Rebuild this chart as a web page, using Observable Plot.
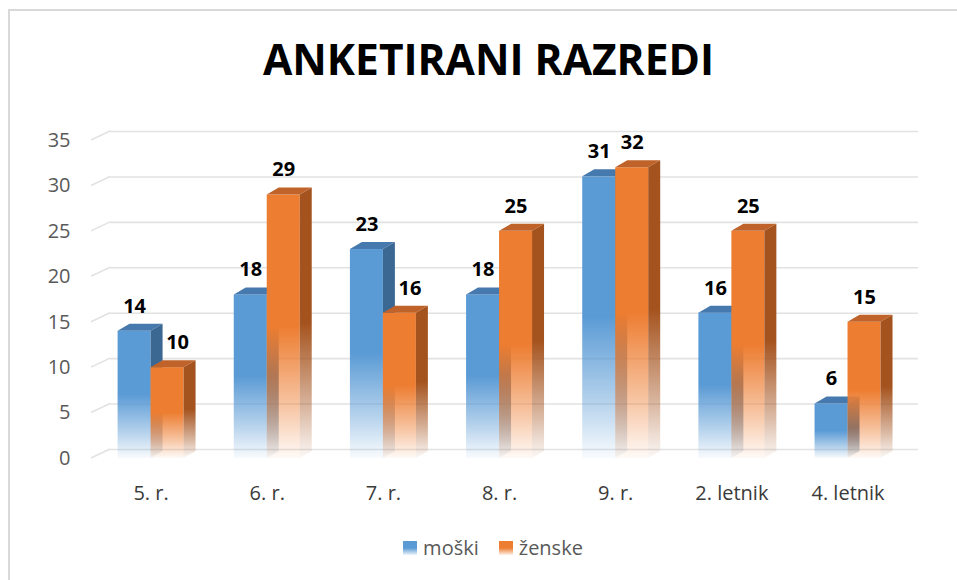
<!DOCTYPE html>
<html>
<head>
<meta charset="utf-8">
<script src="https://cdn.jsdelivr.net/npm/d3@7"></script>
<script src="https://cdn.jsdelivr.net/npm/@observablehq/plot@0.6"></script>
<style>
  html, body { margin: 0; padding: 0; background: #fff; }
  body { width: 957px; height: 580px; overflow: hidden; position: relative; font-family: "Open Sans", sans-serif; }
  #frame { position: absolute; left: 8px; top: 9px; width: 1200px; height: 1200px; border-left: 2px solid #d9d9d9; border-top: 2px solid #d9d9d9; }
  #title { position: absolute; left: 10px; top: 38px; width: 957px; text-align: center; font-weight: bold; font-size: 42.5px; line-height: 42px; color: #000; }
  #chart { position: absolute; left: 0; top: 105px; }
  #legend { position: absolute; left: 0; top: 538px; width: 986px; height: 20px; display: flex; justify-content: center; align-items: center; font-size: 20px; line-height: 20px; color: #595959; }
  .item { display: flex; align-items: center; }
  .sw { width: 14px; height: 14px; margin-right: 6px; }
</style>
</head>
<body>
<div id="frame"></div>
<div id="title">ANKETIRANI RAZREDI</div>
<div id="chart"></div>
<div id="legend"></div>
<script>
// ---- data ----
const categories = ["5. r.", "6. r.", "7. r.", "8. r.", "9. r.", "2. letnik", "4. letnik"];
const moski = [14, 18, 23, 18, 31, 16, 6];
const zenske = [10, 29, 16, 25, 32, 25, 15];
const seriesNames = ["moški", "ženske"];
const yTicks = [0, 5, 10, 15, 20, 25, 30, 35];

// ---- styling ----
const blue = { front: "#5B9BD5", top: "#4679AD", side: "#3B6893" };
const orange = { front: "#ED7D31", top: "#C0632A", side: "#A5531E" };
const gridColor = "#e2e2e2";
const W = 957, H = 425;
const mL = 91, mR = 58, mT = 35, mB = 72;
const padIn = 0.432, padOut = 0.194, alignX = 0.59;
const DX = 12, DY = 7;          // bar depth
const GX = 19, GY = 9;          // floor depth of the back wall

const step = (W - mL - mR) / (categories.length - padIn + 2 * padOut);
const half = step * (1 - padIn) / 2;

const idx = categories.map((_, i) => i);

const plot = Plot.plot({
  width: W, height: H,
  marginLeft: mL, marginRight: mR, marginTop: mT, marginBottom: mB,
  style: { fontFamily: "'Open Sans', sans-serif", fontSize: "20px", color: "#595959", background: "transparent", overflow: "visible" },
  x: { domain: categories, paddingInner: padIn, paddingOuter: padOut, align: alignX, round: false, tickSize: 0, tickPadding: 27, label: null },
  y: { domain: [0, 35], ticks: yTicks, tickSize: 0, tickPadding: 21, label: null },
  marks: [
    Plot.ruleY(yTicks, { stroke: gridColor, strokeWidth: 1.6, dx: GX, dy: -GY }),
    Plot.barY(idx, { x: i => categories[i], y: i => moski[i], fill: "url(#gradBlue)", insetRight: half }),
    Plot.barY(idx, { x: i => categories[i], y: i => zenske[i], fill: "url(#gradOrange)", insetLeft: half }),
    Plot.text(idx, { x: i => categories[i], y: i => moski[i], text: i => String(moski[i]), dx: -half / 2, dy: -25, fontWeight: "bold", fontSize: 20, fill: "#000" }),
    Plot.text(idx.filter(i => zenske[i] >= moski[i]), { x: i => categories[i], y: i => zenske[i], text: i => String(zenske[i]), dx: half / 2, dy: -25, fontWeight: "bold", fontSize: 20, fill: "#000" }),
    Plot.text(idx.filter(i => zenske[i] < moski[i]), { x: i => categories[i], y: i => zenske[i], text: i => String(zenske[i]), dx: half / 2 + 10, dy: -25, fontWeight: "bold", fontSize: 20, fill: "#000" })
  ]
});

document.getElementById("chart").appendChild(plot);
const svg = d3.select(plot);

// darker category labels
svg.selectAll('g[aria-label^="x-axis"]').style("color", "#3a3a3a");

// ---- gradients ----
const defs = svg.insert("defs", ":first-child");
function grad(id, color) {
  const g = defs.append("linearGradient").attr("id", id).attr("x1", 0).attr("y1", 0).attr("x2", 0).attr("y2", 1);
  g.append("stop").attr("offset", 0).attr("stop-color", color).attr("stop-opacity", 1);
  g.append("stop").attr("offset", 0.5).attr("stop-color", color).attr("stop-opacity", 1);
  g.append("stop").attr("offset", 0.8).attr("stop-color", color).attr("stop-opacity", 0.45);
  g.append("stop").attr("offset", 1).attr("stop-color", color).attr("stop-opacity", 0.04);
}
grad("gradBlue", blue.front);
grad("gradOrange", orange.front);
grad("gradBlueSide", blue.side);
grad("gradOrangeSide", orange.side);

// ---- 3D faces of the bars ----
function add3D(fillRef, col, sideId) {
  const rects = [];
  svg.selectAll("rect").each(function () {
    const own = this.getAttribute("fill"), par = this.parentNode.getAttribute("fill");
    if (own === fillRef || par === fillRef) rects.push(this);
  });
  rects.forEach(el => {
    const g = d3.select(el.parentNode);
    const x = +el.getAttribute("x"), y = +el.getAttribute("y"), w = +el.getAttribute("width"), h = +el.getAttribute("height");
    g.append("path")
      .attr("d", `M${x},${y}L${x + DX},${y - DY}L${x + w + DX},${y - DY}L${x + w},${y}Z`)
      .attr("fill", col.top);
    g.append("path")
      .attr("d", `M${x + w},${y}L${x + w + DX},${y - DY}L${x + w + DX},${y + h - DY}L${x + w},${y + h}Z`)
      .attr("fill", `url(#${sideId})`);
  });
}
add3D("url(#gradBlue)", blue, "gradBlueSide");
add3D("url(#gradOrange)", orange, "gradOrangeSide");

// ---- floor legs of the gridlines ----
const ys = plot.scale("y");
const [d0, d1] = ys.domain, [r0, r1] = ys.range;
const yPix = v => r0 + (v - d0) / (d1 - d0) * (r1 - r0);
let gridNode = null;
svg.selectAll("line").each(function () {
  if (!gridNode && (this.getAttribute("stroke") === gridColor || this.parentNode.getAttribute("stroke") === gridColor)) gridNode = this.parentNode;
});
const legs = gridNode ? svg.insert("g", () => gridNode.nextSibling) : svg.append("g");
yTicks.forEach(t => {
  const y = yPix(t);
  legs.append("line").attr("x1", mL).attr("y1", y).attr("x2", mL + GX).attr("y2", y - GY)
    .attr("stroke", gridColor).attr("stroke-width", 1.6);
});

// ---- legend ----
const legend = document.getElementById("legend");
[[seriesNames[0], blue.front, "91,155,213"], [seriesNames[1], orange.front, "237,125,49"]].forEach(([name, c, rgb], k) => {
  const it = document.createElement("div");
  it.className = "item";
  if (k > 0) it.style.marginLeft = "20px";
  const sw = document.createElement("div");
  sw.className = "sw";
  sw.style.background = `linear-gradient(to bottom, ${c} 0%, ${c} 50%, rgba(${rgb},0.1) 100%)`;
  const tx = document.createElement("span");
  tx.textContent = name;
  it.appendChild(sw); it.appendChild(tx);
  legend.appendChild(it);
});
</script>
</body>
</html>
